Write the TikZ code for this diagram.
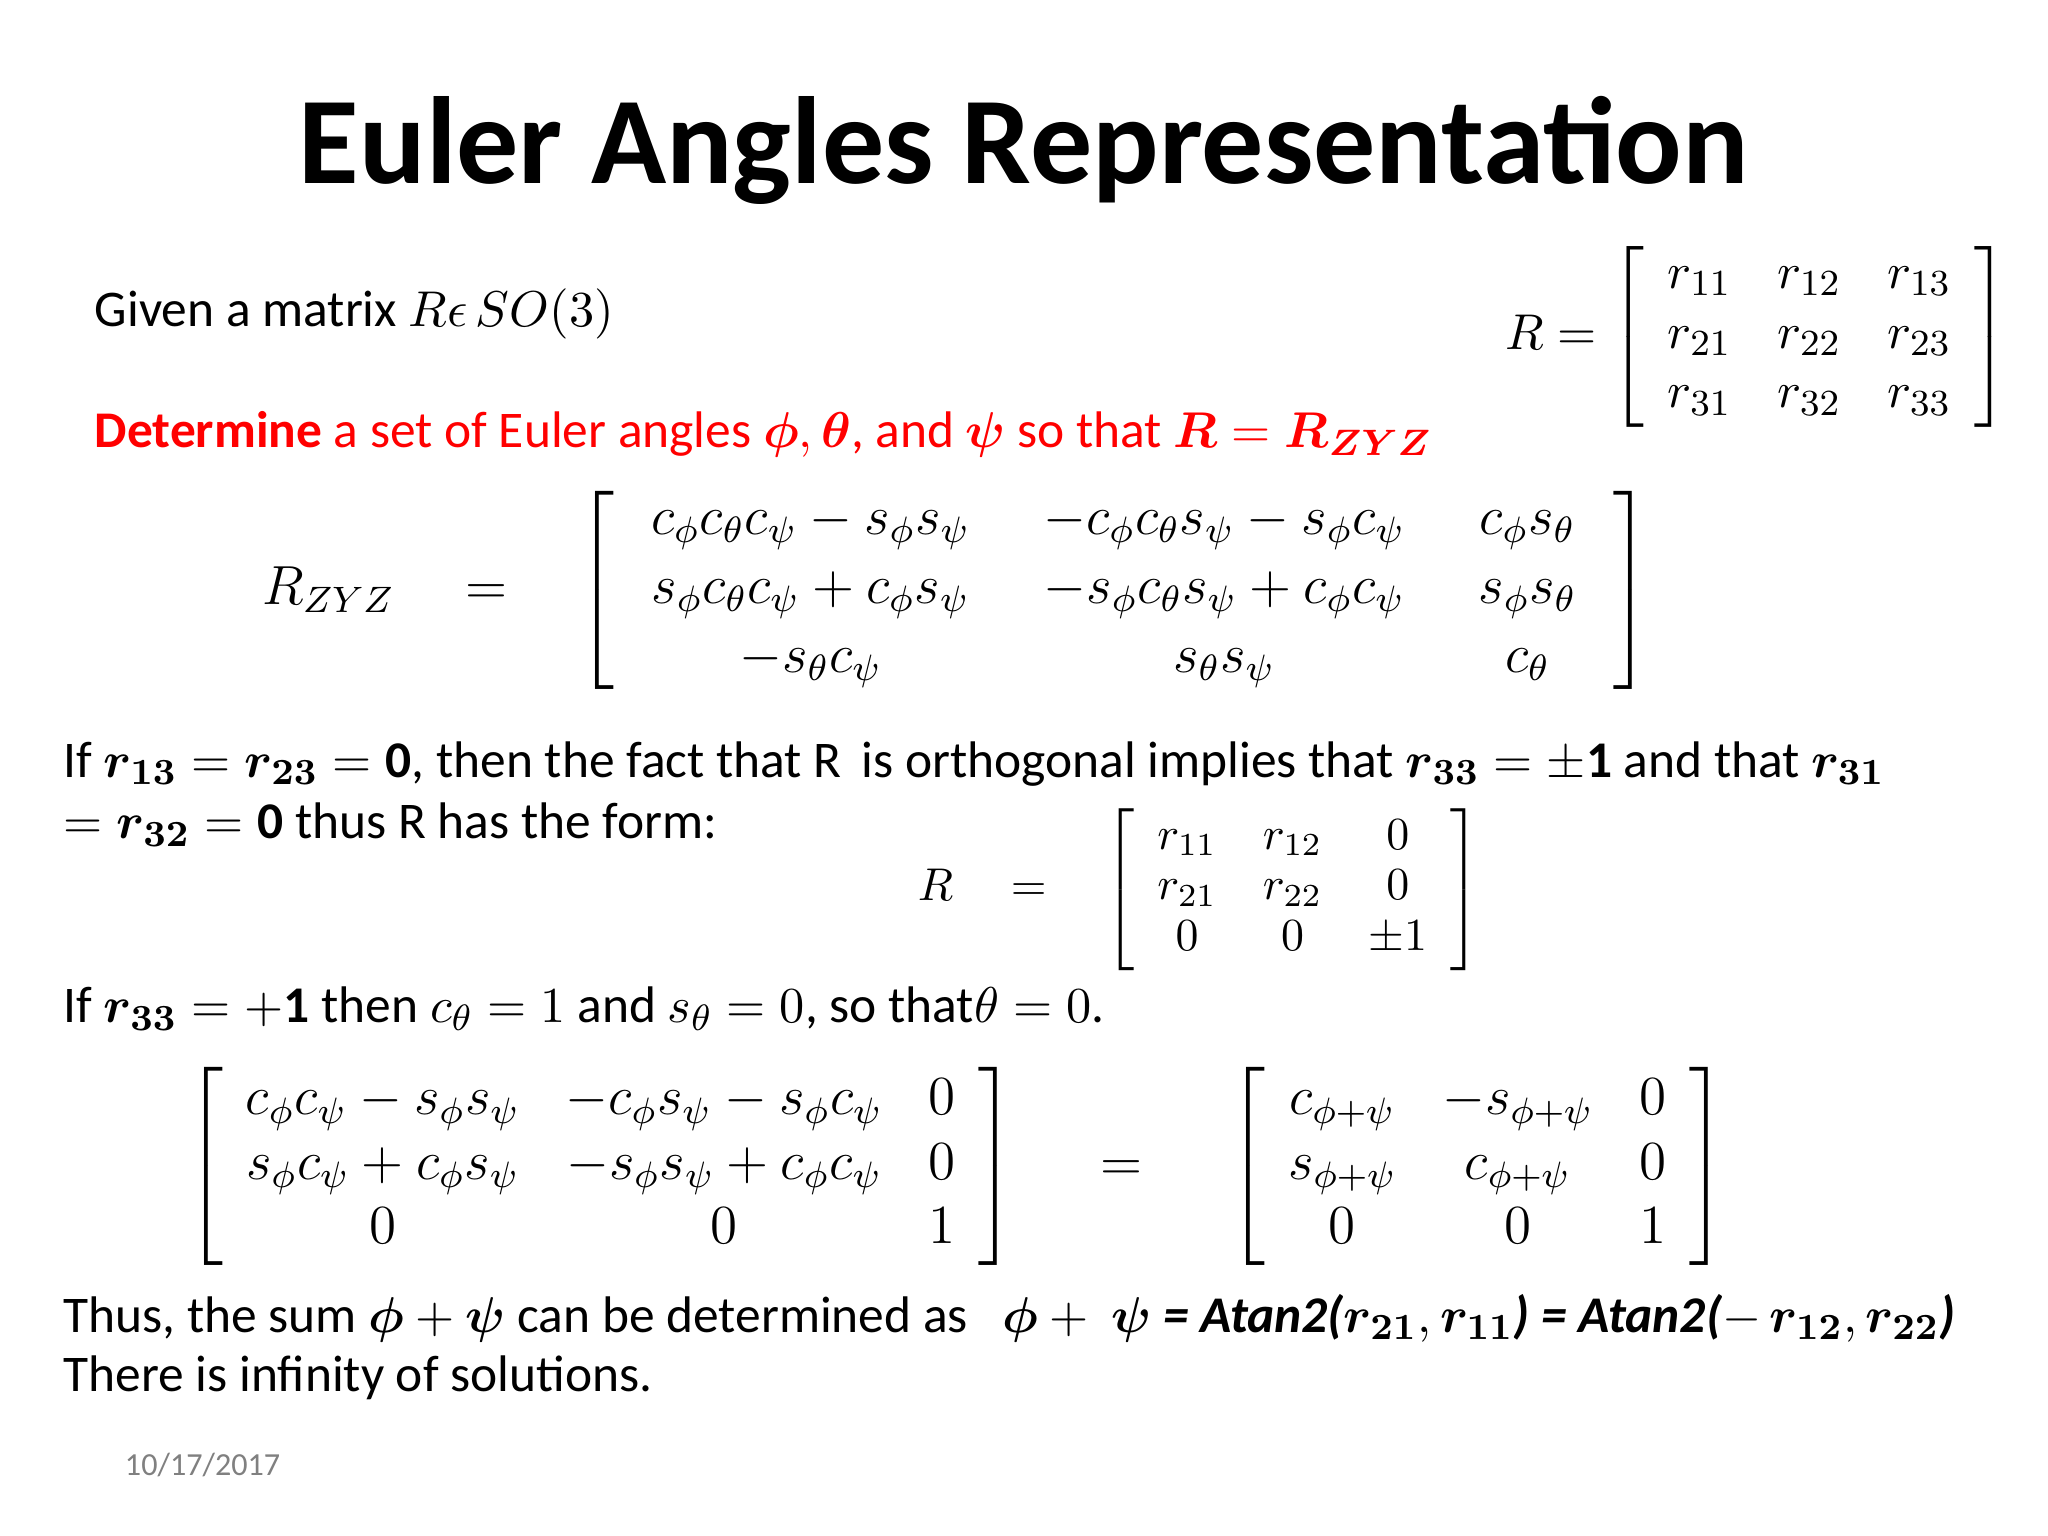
\documentclass[tikz,border=0pt]{standalone}
\usepackage{amsmath,amssymb,bm}
\usepackage{fontspec}
\setmainfont{Carlito}
\begin{document}
\begin{tikzpicture}[x=0.01cm,y=-0.01cm,
  txt/.style={anchor=base west,inner sep=0pt,font=\fontsize{11.2}{13}\selectfont},
  mat/.style={inner sep=0pt}]
\useasboundingbox (0,0) rectangle (1568,1176);
\fill[white] (0,0) rectangle (1568,1176);
\node[inner sep=0pt,font=\fontsize{27}{31}\bfseries\selectfont] (title) at (784,115) {Euler Angles Representation};
\node[txt] (given) at (72,250) {Given a matrix $R\epsilon\, SO(3)$};
\node[mat,font=\fontsize{11}{12}\selectfont] (R1) at (1345,258) {$R=\left[\begin{array}{ccc} r_{11}&r_{12}&r_{13}\\[1pt] r_{21}&r_{22}&r_{23}\\[1pt] r_{31}&r_{32}&r_{33}\end{array}\right]$};
\node[txt,text=red] (det) at (72,343) {\textbf{Determine} a set of Euler angles $\boldsymbol{\phi},\boldsymbol{\theta}$, and $\boldsymbol{\psi}$ so that $\bm{R}=\bm{R_{ZYZ}}$};
\node[mat,font=\fontsize{12}{14}\selectfont] (RZ) at (732,452) {\setlength{\arraycolsep}{8pt}$R_{ZYZ}\quad=\quad\left[\begin{array}{ccc} c_\phi c_\theta c_\psi - s_\phi s_\psi & -c_\phi c_\theta s_\psi - s_\phi c_\psi & c_\phi s_\theta\\[1pt] s_\phi c_\theta c_\psi + c_\phi s_\psi & -s_\phi c_\theta s_\psi + c_\phi c_\psi & s_\phi s_\theta\\[1pt] -s_\theta c_\psi & s_\theta s_\psi & c_\theta\end{array}\right]$};
\node[txt] (if1) at (48,595) {If $\bm{r_{13}}=\bm{r_{23}}=\mathbf{0}$, then the fact that R\, is orthogonal implies that $\bm{r_{33}}=\pm\mathbf{1}$ and that $\bm{r_{31}}$};
\node[txt] (if1b) at (48,642) {$=\bm{r_{32}}=\mathbf{0}$ thus R has the form:};
\node[mat,font=\fontsize{9.8}{11}\selectfont] (R2) at (918,681) {$R\quad=\quad\left[\begin{array}{ccc} r_{11}&r_{12}&0\\ r_{21}&r_{22}&0\\ 0&0&\pm1\end{array}\right]$};
\node[txt] (if2) at (48,783) {If $\bm{r_{33}}=\mathbf{+1}$ then $c_\theta=1$ and $s_\theta=0$, so that$\theta=0$.};
\node[mat,font=\fontsize{12}{14}\selectfont] (EQ) at (732,893) {$\left[\begin{array}{ccc} c_\phi c_\psi - s_\phi s_\psi & -c_\phi s_\psi - s_\phi c_\psi & 0\\ s_\phi c_\psi + c_\phi s_\psi & -s_\phi s_\psi + c_\phi c_\psi & 0\\ 0 & 0 & 1\end{array}\right]\quad\;=\quad\;\left[\begin{array}{ccc} c_{\phi+\psi} & -s_{\phi+\psi} & 0\\ s_{\phi+\psi} & c_{\phi+\psi} & 0\\ 0&0&1\end{array}\right]$};
\node[txt] (thus) at (48,1020) {Thus, the sum $\boldsymbol{\phi}+\boldsymbol{\psi}$ can be determined as \ \ $\boldsymbol{\phi}+\ \boldsymbol{\psi}$ \textbf{\itshape = Atan2(}$\bm{r_{21}},\bm{r_{11}}$\textbf{\itshape ) = Atan2(}$-\,\bm{r_{12}},\bm{r_{22}}$\textbf{\itshape )}};
\node[txt] (inf) at (48,1065) {There is infinity of solutions.};
\node[txt,text=gray,font=\fontsize{7}{8}\selectfont] (date) at (95,1130) {10/17/2017};
\end{tikzpicture}
\end{document}
